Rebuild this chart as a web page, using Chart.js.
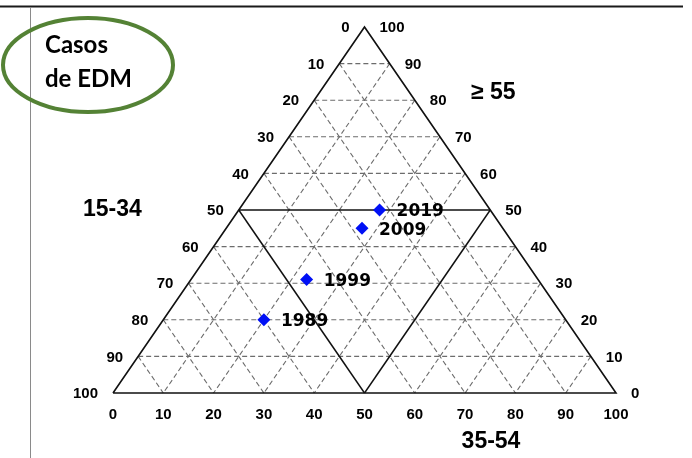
<!DOCTYPE html>
<html>
<head>
<meta charset="utf-8">
<script src="https://cdn.jsdelivr.net/npm/chart.js@4/dist/chart.umd.min.js"></script>
<style>
  html, body { margin: 0; padding: 0; background: #ffffff; }
  canvas { display: block; }
</style>
</head>
<body>
<canvas id="tern" width="692" height="458"></canvas>
<script>
// Share of cases (%) by age group for each census year
const years       = ['1989', '1999', '2009', '2019'];
const share15to34 = [60, 46, 28, 22];
const share35to54 = [20, 23, 27, 28];
const share55plus = [20, 31, 45, 50];

// Tick values shared by the three ternary axes
const ternTicks = [0, 10, 20, 30, 40, 50, 60, 70, 80, 90, 100];
const gridSteps = [10, 20, 30, 40, 60, 70, 80, 90];
const midStep   = 50;

// Axis titles
const titleLeft   = '15-34';
const titleBottom = '35-54';
const titleRight  = '\u2265 55';
const boxText     = ['Casos', 'de EDM'];

// Ternary (a = 15-34, b = 35-54, c = 55+) -> cartesian plot coordinates
function toXY(a, b, c) {
  return { x: b + c / 2, y: c };
}

const datasets = [];

function lineDataset(p, q, dashed) {
  return {
    type: 'scatter',
    showLine: true,
    data: [p, q],
    borderColor: dashed ? '#6c6c6c' : '#111111',
    borderWidth: dashed ? 1.1 : 1.5,
    borderDash: dashed ? [5, 3] : [],
    pointRadius: 0,
    pointHoverRadius: 0,
    fill: false,
    clip: false,
    order: dashed ? 3 : 2
  };
}

// Grid lines of constant value in each of the three directions
function gridFor(k, dashed) {
  // constant 55+
  datasets.push(lineDataset(toXY(100 - k, 0, k), toXY(0, 100 - k, k), dashed));
  // constant 15-34
  datasets.push(lineDataset(toXY(k, 0, 100 - k), toXY(k, 100 - k, 0), dashed));
  // constant 35-54
  datasets.push(lineDataset(toXY(0, k, 100 - k), toXY(100 - k, k, 0), dashed));
}
gridSteps.forEach(k => gridFor(k, true));
gridFor(midStep, false);

// Outer triangle
datasets.push({
  type: 'scatter',
  showLine: true,
  data: [toXY(100, 0, 0), toXY(0, 100, 0), toXY(0, 0, 100), toXY(100, 0, 0)],
  borderColor: '#111111',
  borderWidth: 1.6,
  pointRadius: 0,
  pointHoverRadius: 0,
  clip: false,
  order: 1
});

// Yearly composition markers
datasets.push({
  type: 'scatter',
  label: 'Casos',
  data: years.map((y, i) => toXY(share15to34[i], share35to54[i], share55plus[i])),
  pointStyle: 'rectRot',
  pointRadius: 6.5,
  pointHoverRadius: 6.5,
  backgroundColor: '#0010f5',
  borderColor: '#0010f5',
  borderWidth: 0,
  clip: false,
  order: 0
});
const markerIndex = datasets.length - 1;

const ternaryDecor = {
  id: 'ternaryDecor',
  afterDraw(chart) {
    const ctx = chart.ctx;
    const sx = chart.scales.x, sy = chart.scales.y;
    const px = p => ({ x: sx.getPixelForValue(p.x), y: sy.getPixelForValue(p.y) });
    ctx.save();

    // page frame
    ctx.strokeStyle = '#1a1a1a';
    ctx.lineWidth = 2;
    ctx.beginPath(); ctx.moveTo(0, 6.5); ctx.lineTo(683, 6.5); ctx.stroke();
    ctx.strokeStyle = '#8a8a8a';
    ctx.lineWidth = 1;
    ctx.beginPath(); ctx.moveTo(30.5, 7); ctx.lineTo(30.5, 458); ctx.stroke();

    // tick labels
    ctx.fillStyle = '#000000';
    ctx.font = 'bold 15px "Liberation Sans", Arial, sans-serif';
    ternTicks.forEach(k => {
      // left edge (15-34), increasing downwards
      let p = px(toXY(k, 0, 100 - k));
      ctx.textAlign = 'right'; ctx.textBaseline = 'middle';
      ctx.fillText(String(k), p.x - 15, p.y + 1);
      // right edge (55+), increasing upwards
      p = px(toXY(0, 100 - k, k));
      ctx.textAlign = 'left';
      ctx.fillText(String(k), p.x + 15, p.y + 1);
      // bottom edge (35-54)
      p = px(toXY(100 - k, k, 0));
      ctx.textAlign = 'center';
      ctx.fillText(String(k), p.x, p.y + 22);
    });

    // axis titles
    ctx.font = 'bold 23px "Liberation Sans", Arial, sans-serif';
    ctx.textBaseline = 'middle';
    ctx.textAlign = 'left';
    ctx.fillText(titleLeft, 83, 210);
    ctx.fillText(titleRight, 471, 93);
    ctx.textAlign = 'center';
    ctx.fillText(titleBottom, 491, 442);

    // year labels beside the markers
    const meta = chart.getDatasetMeta(markerIndex);
    ctx.font = 'bold 17px "DejaVu Sans", Verdana, sans-serif';
    ctx.textAlign = 'left';
    meta.data.forEach((el, i) => {
      ctx.fillText(years[i], el.x + 17, el.y + 2);
    });

    // highlighted caption
    ctx.strokeStyle = '#548235';
    ctx.lineWidth = 4;
    ctx.beginPath();
    ctx.ellipse(88, 65, 85, 47, 0, 0, Math.PI * 2);
    ctx.stroke();
    ctx.font = 'bold 24px Lato, "Open Sans", sans-serif';
    ctx.textBaseline = 'alphabetic';
    ctx.textAlign = 'left';
    ctx.fillText(boxText[0], 45, 53);
    ctx.fillText(boxText[1], 45, 87);

    ctx.restore();
  }
};

new Chart(document.getElementById('tern'), {
  type: 'scatter',
  data: { datasets },
  options: {
    responsive: false,
    animation: false,
    layout: { padding: { left: 113, right: 76, top: 27, bottom: 65 } },
    scales: {
      x: { type: 'linear', min: 0, max: 100, display: false },
      y: { type: 'linear', min: 0, max: 100, display: false }
    },
    plugins: {
      legend: { display: false },
      tooltip: { enabled: false }
    },
    events: []
  },
  plugins: [ternaryDecor]
});
</script>
</body>
</html>
